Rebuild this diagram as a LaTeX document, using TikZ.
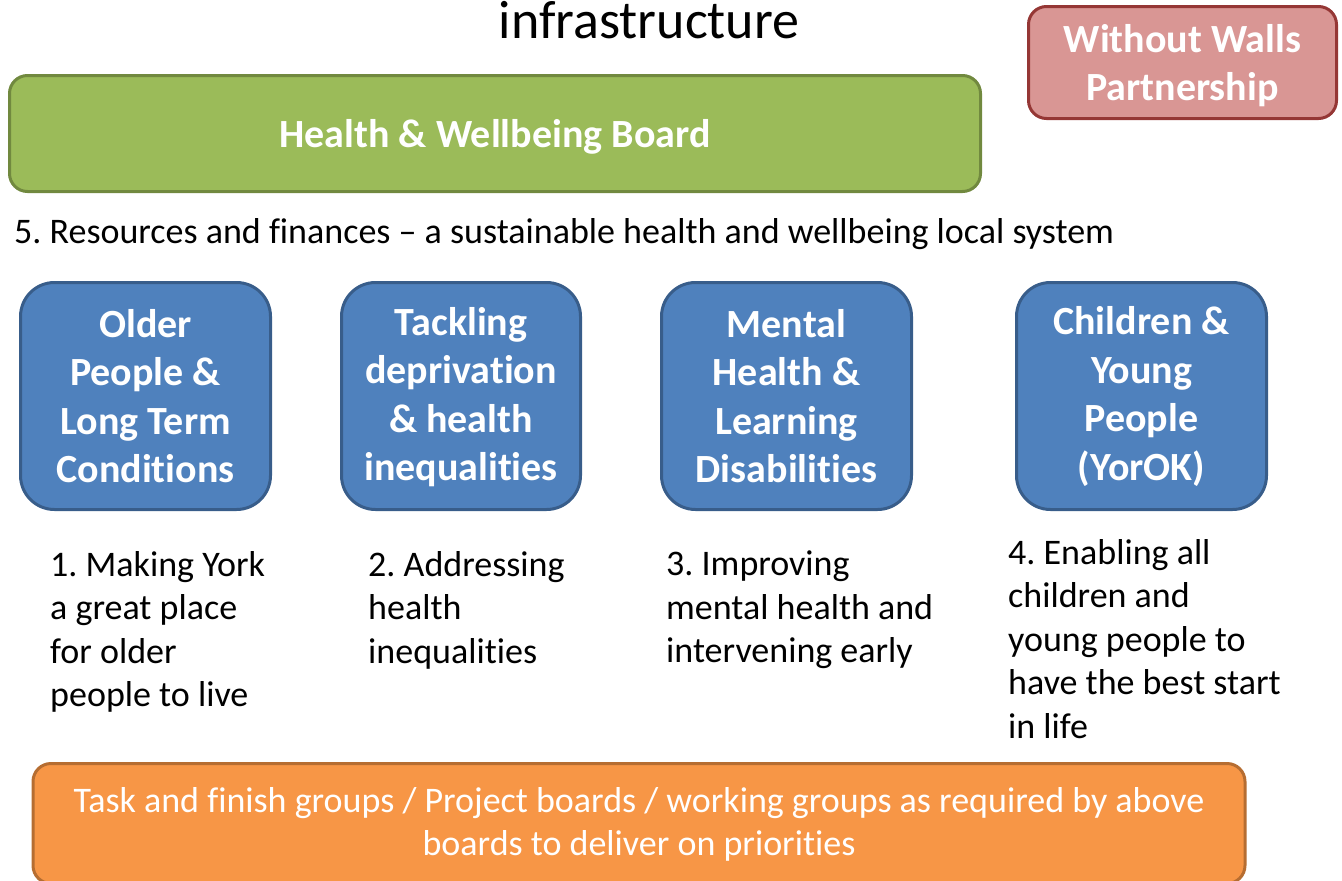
\documentclass[tikz,border=0pt]{standalone}
\usepackage{fontspec}
\setmainfont{Carlito}[Ligatures={TeX,NoCommon}]
\frenchspacing
\definecolor{bluefill}{HTML}{4F81BD}
\definecolor{blueline}{HTML}{385D8A}
\definecolor{greenfill}{HTML}{9BBB59}
\definecolor{greenline}{HTML}{71893F}
\definecolor{pinkfill}{HTML}{D99694}
\definecolor{pinkline}{HTML}{953735}
\definecolor{orangefill}{HTML}{F79646}
\definecolor{orangeline}{HTML}{B66D31}
\begin{document}
\begin{tikzpicture}[x=1pt,y=-1pt,
  boxbase/.style={draw, line width=3pt, text=white, align=center, inner sep=0pt},
  boardbox/.style={boxbase, fill=bluefill, draw=blueline, rounded corners=34pt,
    minimum height=227pt, font=\bfseries\fontsize{40}{48.5}\selectfont},
  prio/.style={anchor=north west, align=left, inner sep=0pt,
    font=\fontsize{36}{43.5}\selectfont},
]
\useasboundingbox (0,0) rectangle (1342,881);

\node[font=\fontsize{54}{60}\selectfont, anchor=base, inner sep=0pt] (title) at (649,38) {infrastructure};

\node[boxbase, fill=pinkfill, draw=pinkline, rounded corners=18pt,
  minimum width=308pt, minimum height=112pt, text depth=0pt,
  font=\bfseries\fontsize{40}{48}\selectfont] (ww) at (1182.5,62.5) {Without Walls\\Partnership};

\node[boxbase, fill=greenfill, draw=greenline, rounded corners=18pt,
  minimum width=971pt, minimum height=116pt, text depth=0pt,
  font=\bfseries\fontsize{40}{47}\selectfont] (hwb) at (495,133.5) {Health \& Wellbeing Board};

\node[anchor=base west, inner sep=0pt, font=\fontsize{36}{40}\selectfont] (res) at (14,243)
  {5. Resources and finances – a sustainable health and wellbeing local system};

\node[boardbox, minimum width=250pt] (b1) at (145.5,396) {Older\\People \&\\Long Term\\Conditions};
\node[boardbox, minimum width=239pt, text depth=4pt] (b2) at (461,396) {Tackling\\deprivation\\\& health\\inequalities};
\node[boardbox, minimum width=250pt] (b3) at (786.5,396) {Mental\\Health \&\\Learning\\Disabilities};
\node[boardbox, minimum width=250pt, text depth=5pt] (b4) at (1141.5,396) {Children \&\\Young\\People\\(YorOK)};

\node[prio] (p1) at (50,551) {1. Making York\\a great place\\for older\\people to live};
\node[prio] (p2) at (368,551) {2. Addressing\\health\\inequalities};
\node[prio] (p3) at (666,551) {3. Improving\\mental health and\\intervening early};
\node[prio] (p4) at (1008,539) {4. Enabling all\\children and\\young people to\\have the best start\\in life};

\node[boxbase, fill=orangefill, draw=orangeline, rounded corners=18pt,
  minimum width=1212pt, minimum height=120pt, text depth=4.5pt,
  font=\fontsize{36}{43}\selectfont] (tf) at (639,823.5)
  {Task and finish groups / Project boards / working groups as required by above\\boards to deliver on priorities};
\end{tikzpicture}
\end{document}
